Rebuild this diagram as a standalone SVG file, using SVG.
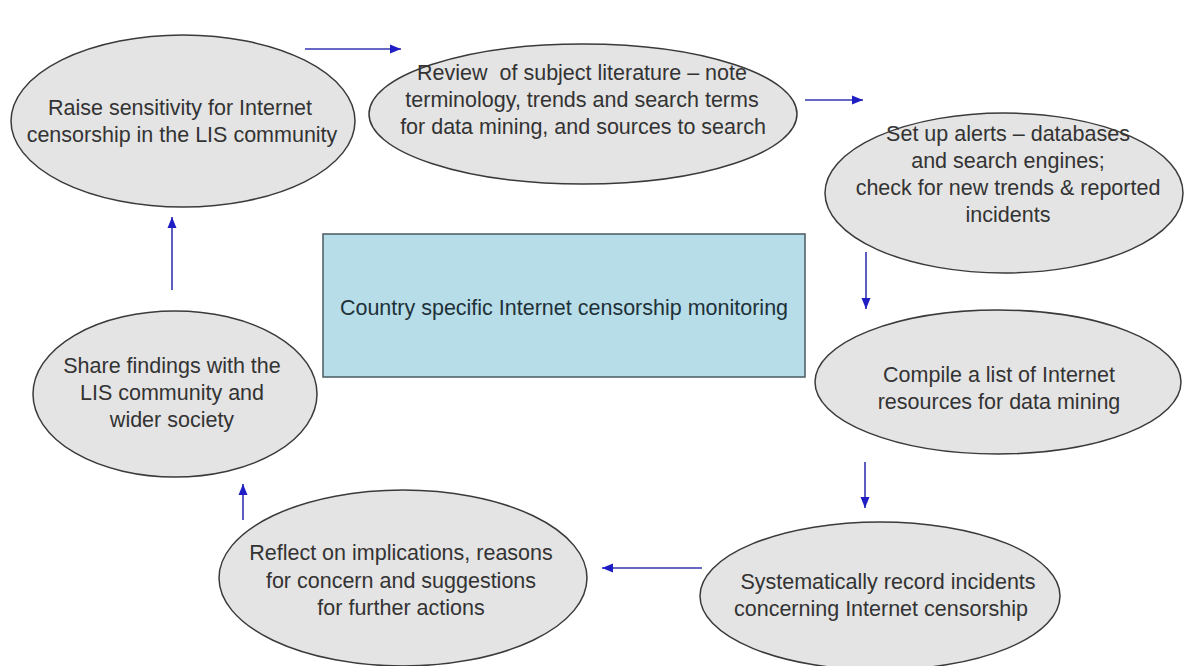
<svg xmlns="http://www.w3.org/2000/svg" width="1184" height="666" viewBox="0 0 1184 666">
  <defs>
    <marker id="arrowhead" markerUnits="userSpaceOnUse" markerWidth="11" markerHeight="11" viewBox="0 0 11 11" refX="11" refY="5.5" orient="auto">
      <path d="M0,1 L11,5.5 L0,10 Z" fill="#1e1ec4"/>
    </marker>
    <style>
      .step ellipse { fill: #e4e4e4; stroke: #3a3a3a; stroke-width: 1.5; }
      .step text { font-family: "Liberation Sans", Arial, sans-serif; font-size: 21.5px; fill: #333333; text-anchor: middle; }
      .center rect { fill: #b7dde8; stroke: #4a5a60; stroke-width: 1.5; }
      .center text { font-family: "Liberation Sans", Arial, sans-serif; font-size: 21.5px; fill: #1f3138; text-anchor: middle; }
      .flow line { stroke: #3535b0; stroke-width: 1.6; marker-end: url(#arrowhead); }
    </style>
  </defs>

  <rect x="0" y="0" width="1184" height="666" fill="#ffffff"/>

  <!-- cycle connectors -->
  <g id="connectors" class="flow">
    <line x1="305" y1="49" x2="401" y2="49"/>
    <line x1="805" y1="100" x2="863" y2="100"/>
    <line x1="866" y1="252" x2="866" y2="309"/>
    <line x1="865" y1="462" x2="865" y2="508"/>
    <line x1="702" y1="568" x2="602" y2="568"/>
    <line x1="243" y1="520" x2="243" y2="484"/>
    <line x1="172" y1="290" x2="172" y2="217"/>
  </g>

  <g id="raise-sensitivity" class="step">
    <ellipse cx="183" cy="121" rx="172" ry="86"/>
    <text x="180" y="115">Raise sensitivity for Internet</text>
    <text x="182" y="142">censorship in the LIS  community</text>
  </g>

  <g id="review-literature" class="step">
    <ellipse cx="583" cy="114" rx="214" ry="70"/>
    <text x="582" y="80" xml:space="preserve">Review  of subject literature – note</text>
    <text x="582" y="107">terminology, trends and search terms</text>
    <text x="583" y="134">for data mining, and sources to search</text>
  </g>

  <g id="set-up-alerts" class="step">
    <ellipse cx="1004" cy="193" rx="179" ry="80"/>
    <text x="1008" y="141">Set up alerts – databases</text>
    <text x="1008" y="168">and search engines;</text>
    <text x="1008" y="195">check for new trends &amp; reported</text>
    <text x="1008" y="222">incidents</text>
  </g>

  <g id="monitoring" class="center">
    <rect x="323" y="234" width="482" height="143"/>
    <text x="564" y="315">Country specific Internet censorship monitoring</text>
  </g>

  <g id="compile-list" class="step">
    <ellipse cx="998" cy="382" rx="183" ry="72"/>
    <text x="999" y="382">Compile a list of Internet</text>
    <text x="999" y="409">resources for data mining</text>
  </g>

  <g id="record-incidents" class="step">
    <ellipse cx="880" cy="596" rx="180" ry="74"/>
    <text x="888" y="589">Systematically record incidents</text>
    <text x="881" y="616">concerning Internet censorship</text>
  </g>

  <g id="reflect" class="step">
    <ellipse cx="403" cy="578" rx="184" ry="88"/>
    <text x="401" y="560">Reflect on implications, reasons</text>
    <text x="401" y="588">for concern and suggestions</text>
    <text x="401" y="615">for further actions</text>
  </g>

  <g id="share-findings" class="step">
    <ellipse cx="175" cy="394" rx="142" ry="83"/>
    <text x="172" y="373">Share findings with the</text>
    <text x="172" y="400">LIS community and</text>
    <text x="172" y="427">wider society</text>
  </g>
</svg>
